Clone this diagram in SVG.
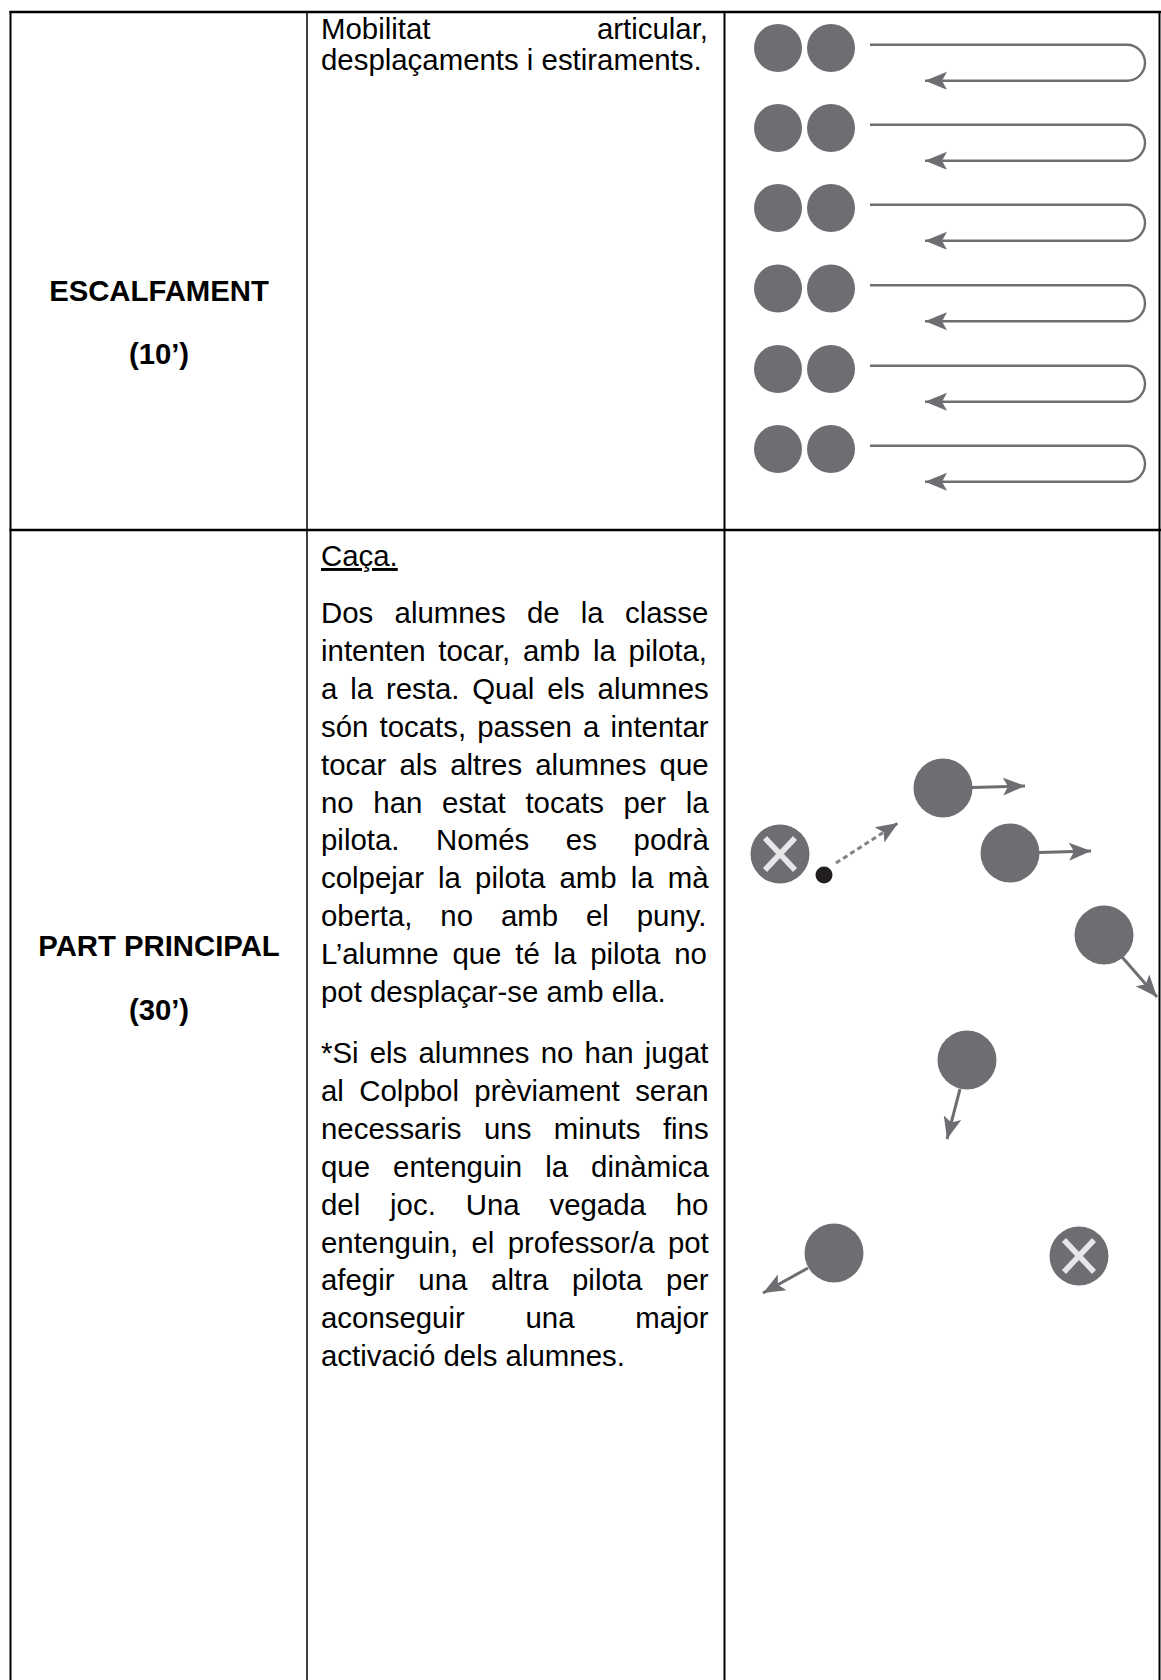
<svg xmlns="http://www.w3.org/2000/svg" width="1161" height="1680" viewBox="0 0 1161 1680">
  <style>
    .txt{font-family:"Liberation Sans",Arial,sans-serif;font-size:29.4px;fill:#000}
    .lbl{font-family:"Liberation Sans",Arial,sans-serif;font-size:29.3px;font-weight:bold;fill:#000;text-anchor:middle}
    .grid{stroke:#000;fill:none}
    .p{fill:#6d6e71}
    .ball{fill:#231f20}
    .loop{fill:none;stroke:#6d6e71;stroke-width:2.4}
    .mv{fill:none;stroke:#6d6e71;stroke-width:3}
    .pass{fill:none;stroke:#808184;stroke-width:3;stroke-dasharray:5 3.5}
    .x{stroke:#e6e7e8;stroke-width:5.5;fill:none}
  </style>
  <defs>
    <!-- notched arrowhead, tip sits on the path end -->
    <marker id="head" viewBox="0 -10 24 20" refX="22" refY="0" markerWidth="24" markerHeight="20" markerUnits="userSpaceOnUse" orient="auto">
      <path d="M0,-9 L22,0 L0,9 L5,0 Z" fill="#6d6e71"/>
    </marker>
  </defs>

  <rect width="1161" height="1680" fill="#fff"/>

  <!-- table grid -->
  <g id="table">
    <path class="grid" stroke-width="2.5" d="M9.5,12 H1161 M9.5,530 H1161"/>
    <path class="grid" stroke-width="2" d="M10.5,11 V1680 M724.5,11 V1680 M1159.5,11 V1680"/>
    <path class="grid" stroke-width="1.5" d="M307,12 V1680"/>
  </g>

  <!-- first column labels -->
  <g id="label-warmup">
    <text class="lbl" x="159" y="301">ESCALFAMENT</text>
    <text class="lbl" x="159" y="364">(10’)</text>
  </g>
  <g id="label-main">
    <text class="lbl" x="159" y="956">PART PRINCIPAL</text>
    <text class="lbl" x="159" y="1020">(30’)</text>
  </g>

  <!-- second column: activity descriptions -->
  <g id="text-warmup" class="txt">
    <text x="321" y="39">Mobilitat</text>
    <text x="708" y="39" text-anchor="end">articular,</text>
    <text x="321" y="70">desplaçaments i estiraments.</text>
  </g>

  <g id="text-main" class="txt">
    <text x="321" y="566" text-decoration="underline">Caça.</text>
    <text x="321" y="623" word-spacing="13.1">Dos alumnes de la classe</text>
    <text x="321" y="660.9" word-spacing="4.6">intenten tocar, amb la pilota,</text>
    <text x="321" y="698.8" word-spacing="4.68">a la resta. Qual els alumnes</text>
    <text x="321" y="736.7" word-spacing="2.95">són tocats, passen a intentar</text>
    <text x="321" y="774.6" word-spacing="5.0">tocar als altres alumnes que</text>
    <text x="321" y="812.5" word-spacing="11.5">no han estat tocats per la</text>
    <text x="321" y="850.4" word-spacing="28.5">pilota. Només es podrà</text>
    <text x="321" y="888.3" word-spacing="5.95">colpejar la pilota amb la mà</text>
    <text x="321" y="926.2" word-spacing="19.7">oberta, no amb el puny.</text>
    <text x="321" y="964.1" word-spacing="5.6">L’alumne que té la pilota no</text>
    <text x="321" y="1002">pot desplaçar-se amb ella.</text>

    <text x="321" y="1063" word-spacing="3.0">*Si els alumnes no han jugat</text>
    <text x="321" y="1100.9" word-spacing="7.25">al Colpbol prèviament seran</text>
    <text x="321" y="1138.8" word-spacing="14.33">necessaris uns minuts fins</text>
    <text x="321" y="1176.7" word-spacing="14.86">que entenguin la dinàmica</text>
    <text x="321" y="1214.6" word-spacing="21.7">del joc. Una vegada ho</text>
    <text x="321" y="1252.5" word-spacing="5.08">entenguin, el professor/a pot</text>
    <text x="321" y="1290.4" word-spacing="15.6">afegir una altra pilota per</text>
    <text x="321" y="1328.3" word-spacing="52.5">aconseguir una major</text>
    <text x="321" y="1366.2">activació dels alumnes.</text>
  </g>

  <!-- warm-up drill: pairs of students -->
  <g id="warmup-pairs" class="p">
    <g id="pair-1"><circle cx="778" cy="48" r="24"/><circle cx="831" cy="48" r="24"/></g>
    <g id="pair-2"><circle cx="778" cy="128" r="24"/><circle cx="831" cy="128" r="24"/></g>
    <g id="pair-3"><circle cx="778" cy="208" r="24"/><circle cx="831" cy="208" r="24"/></g>
    <g id="pair-4"><circle cx="778" cy="288.5" r="24"/><circle cx="831" cy="288.5" r="24"/></g>
    <g id="pair-5"><circle cx="778" cy="369" r="24"/><circle cx="831" cy="369" r="24"/></g>
    <g id="pair-6"><circle cx="778" cy="449" r="24"/><circle cx="831" cy="449" r="24"/></g>
  </g>

  <!-- chase game: players -->
  <g id="chase-players">
    <g id="chaser-1">
      <circle class="p" cx="780" cy="854" r="29.5"/>
      <path class="x" d="M765,838 L795,870 M795,838 L765,870"/>
    </g>
    <circle id="ball" class="ball" cx="824" cy="875" r="8.5"/>
    <circle id="player-a" class="p" cx="943" cy="788" r="29.5"/>
    <circle id="player-b" class="p" cx="1010" cy="853" r="29.5"/>
    <circle id="player-c" class="p" cx="1104" cy="935" r="29.5"/>
    <circle id="player-d" class="p" cx="967" cy="1060" r="29.5"/>
    <circle id="player-e" class="p" cx="834" cy="1253" r="29.5"/>
    <g id="chaser-2">
      <circle class="p" cx="1079" cy="1256" r="29.5"/>
      <path class="x" d="M1064,1240 L1094,1272 M1094,1240 L1064,1272"/>
    </g>
  </g>

  <!-- connectors -->
  <g id="connectors">
    <g id="warmup-loops">
      <path class="loop" marker-end="url(#head)" d="M870,44.8 H1127 A18,18 0 0 1 1127,80.8 H925"/>
      <path class="loop" marker-end="url(#head)" d="M870,124.8 H1127 A18,18 0 0 1 1127,160.8 H925"/>
      <path class="loop" marker-end="url(#head)" d="M870,204.8 H1127 A18,18 0 0 1 1127,240.8 H925"/>
      <path class="loop" marker-end="url(#head)" d="M870,285.3 H1127 A18,18 0 0 1 1127,321.3 H925"/>
      <path class="loop" marker-end="url(#head)" d="M870,365.8 H1127 A18,18 0 0 1 1127,401.8 H925"/>
      <path class="loop" marker-end="url(#head)" d="M870,445.8 H1127 A18,18 0 0 1 1127,481.8 H925"/>
    </g>
    <path id="pass" class="pass" marker-end="url(#head)" d="M836,863 L898,823"/>
    <path class="mv" marker-end="url(#head)" d="M972,787.5 L1025,786"/>
    <path class="mv" marker-end="url(#head)" d="M1039,852.5 L1091,851"/>
    <path class="mv" marker-end="url(#head)" d="M1122,957 L1157,997"/>
    <path class="mv" marker-end="url(#head)" d="M960,1089 L947,1139"/>
    <path class="mv" marker-end="url(#head)" d="M808,1268 L763,1293"/>
  </g>
</svg>
